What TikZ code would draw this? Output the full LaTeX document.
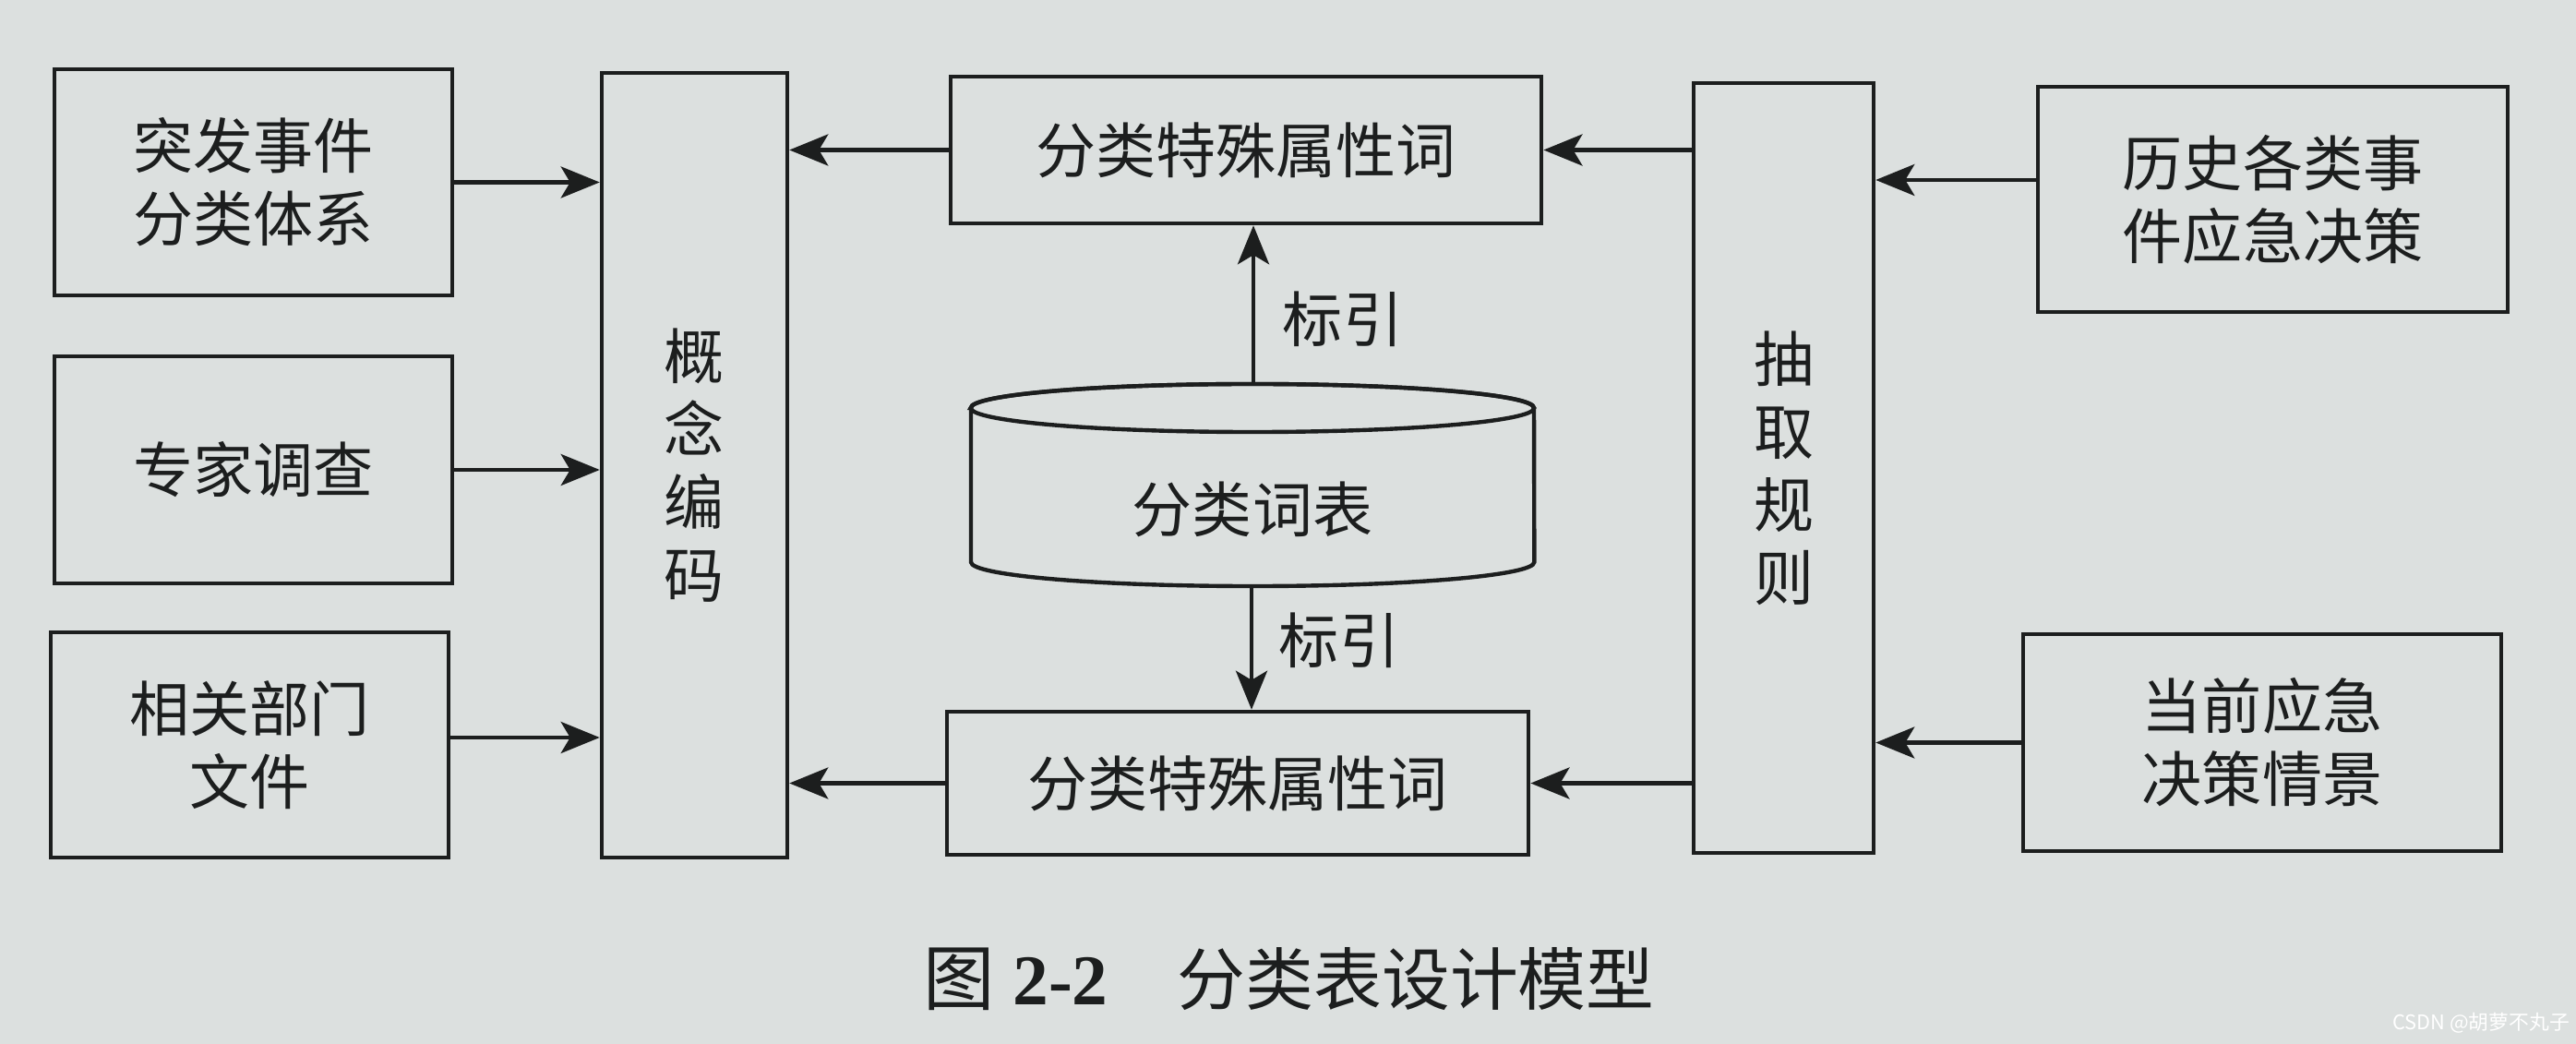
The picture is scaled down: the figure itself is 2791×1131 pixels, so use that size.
\documentclass[tikz,border=0pt]{standalone}
\usepackage{fontspec}
\setmainfont{Liberation Serif}
\newfontfamily\cjk{Noto Sans CJK SC}
\usetikzlibrary{arrows.meta}
\definecolor{paper}{HTML}{DCE0DF}
\definecolor{ink}{HTML}{1C1E1E}
\begin{document}
\begin{tikzpicture}[x=0.01cm,y=-0.01cm,
  ln/.style={draw=ink, line width=1.25pt},
  box/.style={ln, fill=paper, inner sep=0pt, align=center, font=\cjk\fontsize{18.5}{22.5}\selectfont, text=ink},
  arr/.style={ln, -{Stealth[length=0.42cm,width=0.34cm,inset=0.1cm]}},
  lbl/.style={font=\cjk\fontsize{18.5}{22.5}\selectfont, text=ink},
]
\fill[paper] (0,0) rectangle (2791,1131);
\useasboundingbox (0,0) rectangle (2791,1131);

% left sources
\node[box, minimum width=4.31cm, minimum height=2.45cm] (s1) at (274.5,197.5) {突发事件\\分类体系};
\node[box, minimum width=4.31cm, minimum height=2.46cm] (s2) at (274.5,509) {专家调查};
\node[box, minimum width=4.31cm, minimum height=2.44cm] (s3) at (270.5,807) {相关部门\\文件};

% concept coding
\node[box, minimum width=2.01cm, minimum height=8.50cm] (gn) at (752.5,504) {概\\念\\编\\码};

% middle boxes
\node[box, minimum width=6.40cm, minimum height=1.59cm] (tb) at (1350,162.5) {分类特殊属性词};
\node[box, minimum width=6.30cm, minimum height=1.55cm] (bb) at (1341,848.5) {分类特殊属性词};

% extraction rules
\node[box, minimum width=1.95cm, minimum height=8.34cm] (cq) at (1932.5,507) {抽\\取\\规\\则};

% right sources
\node[box, minimum width=5.09cm, minimum height=2.44cm] (ls) at (2462.5,216) {历史各类事\\件应急决策};
\node[box, minimum width=5.18cm, minimum height=2.35cm] (dq) at (2451,804.5) {当前应急\\决策情景};

% cylinder
\draw[ln, fill=paper] (1052,442) -- (1052,609)
  arc[start angle=180, end angle=360, x radius=3.05cm, y radius=0.26cm]
  -- (1662,442)
  arc[start angle=0, end angle=180, x radius=3.05cm, y radius=0.26cm] -- cycle;
\draw[ln] (1357,442) ellipse[x radius=3.05cm, y radius=0.26cm];
\node[lbl] (cyl) at (1357,552) {分类词表};
\coordinate (cyltop) at (1358,416);
\coordinate (cylbot) at (1356,635);

% labels
\node[lbl] (l1) at (1455,346) {标引};
\node[lbl] (l2) at (1451,694) {标引};

% arrows
\draw[arr] (s1.east) -- (s1.east -| gn.west);
\draw[arr] (s2.east) -- (s2.east -| gn.west);
\coordinate (s3a) at ([yshift=0.08cm]s3.east);
\draw[arr] (s3a) -- (s3a -| gn.west);
\draw[arr] (tb.west) -- (tb.west -| gn.east);
\draw[arr] (bb.west) -- (bb.west -| gn.east);
\draw[arr] (tb.east -| cq.west) -- (tb.east);
\draw[arr] (bb.east -| cq.west) -- (bb.east);
\coordinate (lsa) at ([yshift=0.21cm]ls.west);
\draw[arr] (lsa) -- (lsa -| cq.east);
\draw[arr] (dq.west) -- (dq.west -| cq.east);
\draw[arr] (cyltop) -- (cyltop |- tb.south);
\draw[arr] (cylbot) -- (cylbot |- bb.north);

% caption
\node[anchor=west, text=ink, font=\fontsize{22}{26}\selectfont, inner sep=0pt] (cap1) at (1000,1061) {{\cjk 图} \textbf{2-2}};
\node[anchor=west, text=ink, font=\cjk\fontsize{21}{25}\selectfont, inner sep=0pt] (cap2) at (1275,1061) {分类表设计模型};

% watermark
\node[text=white, font=\cjk\fontsize{6.2}{8}\selectfont, inner sep=0pt] (wm) at (2688,1108) {CSDN @胡萝不丸子};
\end{tikzpicture}
\end{document}
